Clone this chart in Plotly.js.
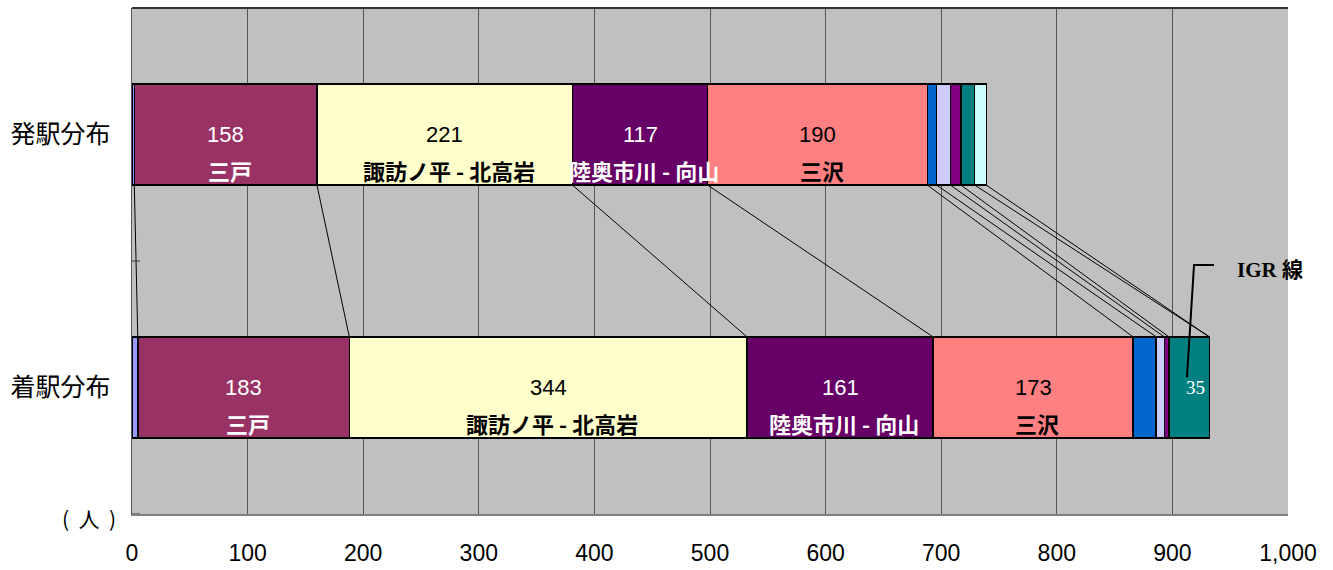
<!DOCTYPE html>
<html>
<head>
<meta charset="utf-8">
<script src="https://cdn.plot.ly/plotly-3.0.1.min.js"></script>
<style>html,body{margin:0;padding:0;background:#fff;}#chart{width:1333px;height:570px;}</style>
</head>
<body>
<div id="chart"></div>
<script>
// ---- data ----
const rowLabels = ['発駅分布', '着駅分布'];
const rowPos = [1, 0];
const segNames = ['', '三戸', '諏訪ノ平 - 北高岩', '陸奥市川 - 向山', '三沢', '', '', '', '', ''];
const departVals = [2, 158, 221, 117, 190, 8, 12, 9, 12, 10];
const arriveVals = [5, 183, 344, 161, 173, 20, 7, 4, 35, 0];
const labeledSegs = [1, 2, 3, 4];
const igrSeg = 8;
const xTicks = [0, 100, 200, 300, 400, 500, 600, 700, 800, 900, 1000];

// ---- styles ----
const segColors = ['#9999FF', '#993366', '#FFFFCC', '#660066', '#FF8080', '#0066CC', '#CCCCFF', '#800080', '#008080', '#CCFFFF'];
const labelColors = ['#000', '#FFFFFF', '#000000', '#FFFFFF', '#000000', '#000', '#000', '#000', '#FFFFFF', '#000'];
const BAR_W = 0.4;

const rows = [departVals, arriveVals];
const traces = segNames.map((n, i) => ({
  type: 'bar',
  orientation: 'h',
  x: [departVals[i], arriveVals[i]],
  y: rowPos,
  width: BAR_W,
  marker: {color: segColors[i], line: {color: '#000', width: 1.5}},
  hoverinfo: 'skip',
  showlegend: false
}));

function cum(vals) { const c = [0]; vals.forEach(v => c.push(c[c.length - 1] + v)); return c; }
const cumTop = cum(departVals), cumBot = cum(arriveVals);

const shapes = [];
// series lines
for (let k = 1; k < cumTop.length; k++) {
  shapes.push({type: 'line', xref: 'x', yref: 'y', x0: cumTop[k], y0: rowPos[0] - BAR_W / 2, x1: cumBot[k], y1: rowPos[1] + BAR_W / 2,
    line: {color: '#000', width: 1}});
}
// top border
shapes.push({type: 'line', xref: 'paper', yref: 'paper', x0: 0, x1: 1, y0: 1, y1: 1, line: {color: '#333', width: 2}});
// category boundary ticks
[0.5, -0.5].forEach(v => shapes.push({type: 'line', xref: 'paper', yref: 'y', x0: 0, x1: 0.007, y0: v, y1: v, line: {color: '#333', width: 1}}));
// IGR callout
shapes.push({type: 'path', xref: 'x', yref: 'y', path: 'M 912.6 0.04 L 918.7 0.484 L 936 0.484', line: {color: '#000', width: 2}});

const annotations = [];
rows.forEach((vals, r) => {
  const c = cum(vals);
  labeledSegs.forEach(i => {
    const xc = c[i] + vals[i] / 2;
    annotations.push({x: xc, y: rowPos[r], xref: 'x', yref: 'y', text: String(vals[i]), showarrow: false,
      font: {family: 'Liberation Sans, Arial, sans-serif', size: 22, color: labelColors[i]}, yshift: 0});
    annotations.push({x: xc, y: rowPos[r], xref: 'x', yref: 'y', text: '<b>' + segNames[i] + '</b>', showarrow: false,
      font: {family: 'Noto Sans CJK JP, sans-serif', size: 22, color: labelColors[i]}, yshift: -35, xshift: 4});
  });
});
// IGR segment value
annotations.push({x: cumBot[igrSeg] + arriveVals[igrSeg] / 2, y: rowPos[1], xref: 'x', yref: 'y', xshift: 6,
  text: String(arriveVals[igrSeg]), showarrow: false,
  font: {family: 'Liberation Serif, Times New Roman, serif', size: 19, color: labelColors[igrSeg]}});
annotations.push({x: 0.984, y: 0.482, xref: 'paper', yref: 'paper', text: '<b>IGR 線</b>', showarrow: false,
  xanchor: 'center', yanchor: 'middle',
  font: {family: 'Liberation Serif, Noto Sans CJK JP, serif', size: 21, color: '#000'}});
annotations.push({x: -0.0372, y: -0.008, xref: 'paper', yref: 'paper', text: '(&nbsp;&nbsp;人&nbsp;&nbsp;)', showarrow: false,
  xanchor: 'center', yanchor: 'middle',
  font: {family: 'Noto Sans CJK JP, sans-serif', size: 21, color: '#000'}});

const layout = {
  width: 1333, height: 570,
  margin: {l: 132, r: 45, t: 8, b: 56, pad: 0},
  paper_bgcolor: '#FFFFFF',
  plot_bgcolor: '#C0C0C0',
  barmode: 'stack',
  showlegend: false,
  xaxis: {
    range: [0, 1000], tickvals: xTicks, ticktext: xTicks.map(v => v.toLocaleString('en-US')),
    showgrid: true, gridcolor: '#555555', gridwidth: 1, zeroline: false,
    showline: true, linecolor: '#808080', linewidth: 1.5,
    ticks: '', ticklabelstandoff: 18,
    tickfont: {family: 'Liberation Sans, Arial, sans-serif', size: 23, color: '#000'},
    fixedrange: true
  },
  yaxis: {
    range: [-0.5, 1.5], tickvals: rowPos, ticktext: rowLabels,
    showgrid: false, zeroline: false,
    showline: true, linecolor: '#555555', linewidth: 1.5,
    ticks: '', ticklabelstandoff: 15,
    tickfont: {family: 'Noto Sans CJK JP, sans-serif', size: 25, color: '#000'},
    fixedrange: true
  },
  shapes: shapes,
  annotations: annotations
};

Plotly.newPlot('chart', traces, layout, {displayModeBar: false, staticPlot: true});
</script>
</body>
</html>
